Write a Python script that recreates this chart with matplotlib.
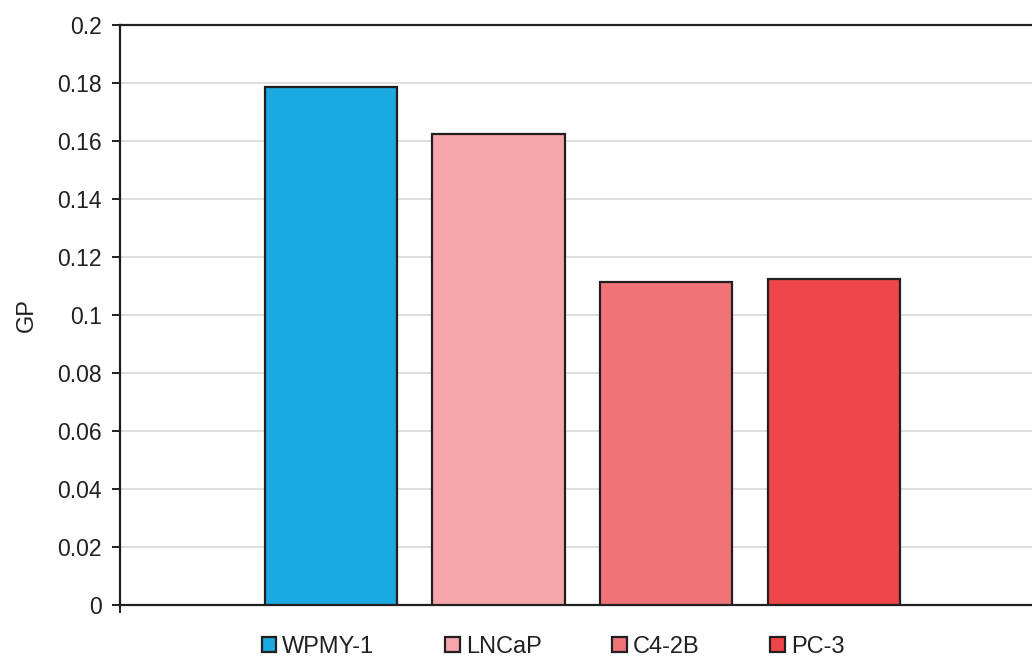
import numpy as np
import matplotlib.pyplot as plt

plt.rcParams['font.family'] = ['Liberation Sans', 'DejaVu Sans']

cells = ['WPMY-1', 'LNCaP', 'C4-2B', 'PC-3']
gp = [0.1786, 0.1624, 0.1114, 0.1124]
colors = ['#1CA8E0', '#F6A6AA', '#F07377', '#EE4648']

fig = plt.figure(figsize=(10.32, 6.59), dpi=100)
ax = fig.add_axes([0.1163, 0.0819, 0.896, 0.880])

x = np.arange(len(cells))
bars = ax.bar(x, gp, width=0.79, color=colors, edgecolor='#231F20',
              linewidth=1.6, label=cells, zorder=3)

pad = 1.259
ax.set_xlim(-pad, len(cells) - 1 + pad)
ax.set_ylim(0, 0.2)
ax.set_yticks(np.arange(0, 0.2001, 0.02))
ax.set_yticklabels(['0'] + ['%g' % v for v in np.arange(0.02, 0.2001, 0.02)])
ax.set_xticks([-pad])
ax.set_xticklabels([''])
ax.yaxis.grid(True, color='#D9D9D9', linewidth=1.2, zorder=0)
ax.set_axisbelow(True)

for s in ['left', 'bottom', 'top']:
    ax.spines[s].set_color('#231F20')
    ax.spines[s].set_linewidth(1.6)
ax.spines['right'].set_visible(False)

ax.tick_params(axis='y', direction='out', length=6, width=1.4,
               color='#231F20', labelsize=16.5, labelcolor='#231F20', pad=7)
ax.tick_params(axis='x', direction='out', length=6, width=1.4, color='#231F20')
ax.set_ylabel('GP', fontsize=17, color='#231F20', labelpad=14)

fig.legend(bars, cells, loc='center left', bbox_to_anchor=(0.233, 0.018),
           ncol=4, frameon=False, fontsize=17, handlelength=0.62,
           handleheight=0.62, handletextpad=0.25, columnspacing=3.0,
           labelcolor='#231F20')

fig.savefig('out.png', dpi=100)
